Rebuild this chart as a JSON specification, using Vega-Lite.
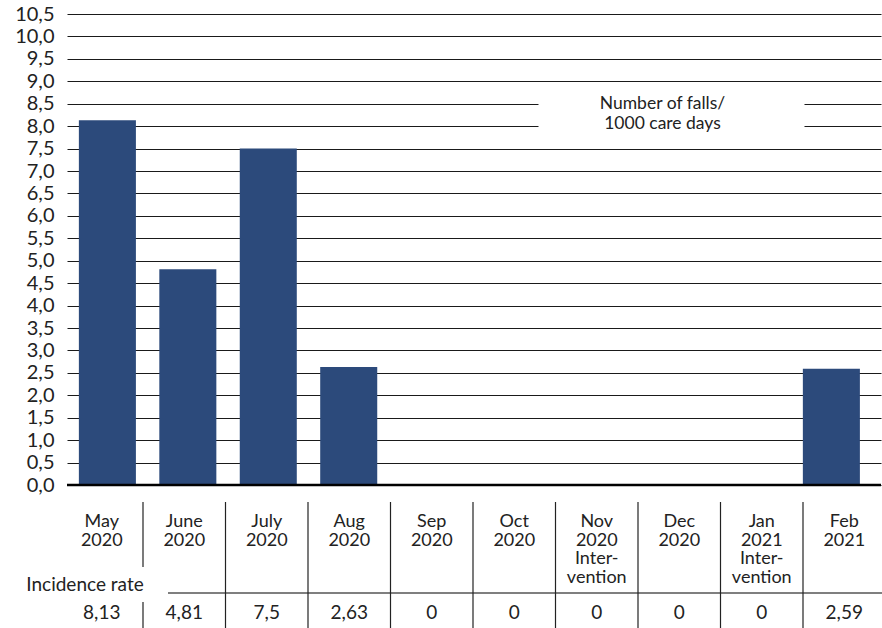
{
  "$schema": "https://vega.github.io/schema/vega-lite/v6.json",
  "background": "white",
  "padding": {"left": 14, "top": 4, "right": 0, "bottom": 0},
  "spacing": 6,
  "data": {"values": [
    {"month": "May 2020", "label": "May\n2020", "rate": 8.13},
    {"month": "June 2020", "label": "June\n2020", "rate": 4.81},
    {"month": "July 2020", "label": "July\n2020", "rate": 7.5},
    {"month": "Aug 2020", "label": "Aug\n2020", "rate": 2.63},
    {"month": "Sep 2020", "label": "Sep\n2020", "rate": 0},
    {"month": "Oct 2020", "label": "Oct\n2020", "rate": 0},
    {"month": "Nov 2020", "label": "Nov\n2020\nInter-\nvention", "rate": 0},
    {"month": "Dec 2020", "label": "Dec\n2020", "rate": 0},
    {"month": "Jan 2021", "label": "Jan\n2021\nInter-\nvention", "rate": 0},
    {"month": "Feb 2021", "label": "Feb\n2021", "rate": 2.59}
  ]},
  "vconcat": [
    {
      "width": 814,
      "height": 471,
      "layer": [
        {
          "mark": {"type": "bar", "color": "#2c4a7b"},
          "encoding": {
            "x": {"field": "month", "type": "nominal", "sort": null,
                  "scale": {"paddingInner": 0.291, "paddingOuter": 0.205, "align": 0.36},
                  "axis": null},
            "y": {"field": "rate", "type": "quantitative",
                  "scale": {"domain": [0, 10.5], "nice": false},
                  "axis": {"values": [0,0.5,1,1.5,2,2.5,3,3.5,4,4.5,5,5.5,6,6.5,7,7.5,8,8.5,9,9.5,10,10.5],
                           "tickCount": 40, "format": ".1f", "title": null}}
          }
        },
        {
          "data": {"values": [{}]},
          "mark": {"type": "rule", "color": "#000", "strokeWidth": 2.5},
          "encoding": {"y": {"datum": 0, "type": "quantitative"}}
        },
        {
          "data": {"values": [{}]},
          "mark": {"type": "bar", "color": "white", "width": 266, "xOffset": 1},
          "encoding": {
            "x": {"datum": "Dec 2020", "type": "nominal"},
            "y": {"datum": 7.76, "type": "quantitative"},
            "y2": {"datum": 8.74}
          }
        },
        {
          "data": {"values": [{}]},
          "mark": {"type": "text", "font": "Lato", "fontSize": 17.5, "color": "#222",
                   "lineBreak": "\n", "lineHeight": 20, "baseline": "middle", "align": "center", "xOffset": -8},
          "encoding": {
            "x": {"datum": "Dec 2020", "type": "nominal"},
            "y": {"datum": 8.5, "type": "quantitative"},
            "text": {"value": "Number of falls/\n1000 care days"}
          }
        }
      ]
    },
    {
      "width": 825,
      "height": 126,
      "layer": [
        {
          "mark": {"type": "text", "font": "Lato", "fontSize": 18, "color": "#222",
                   "lineBreak": "\n", "lineHeight": 18.5, "baseline": "top", "align": "center",
                   "xOffset": -6.5, "dy": -20.5},
          "encoding": {
            "x": {"field": "month", "type": "nominal", "sort": null,
                  "scale": {"paddingInner": 0, "paddingOuter": 0}, "axis": null},
            "y": {"datum": "Month", "type": "nominal",
                  "scale": {"type": "band", "domain": ["Month", "Incidence rate"], "paddingInner": 0, "paddingOuter": 0},
                  "axis": null},
            "text": {"field": "label"}
          }
        },
        {
          "mark": {"type": "text", "font": "Lato", "fontSize": 19, "color": "#222",
                   "baseline": "middle", "align": "center", "xOffset": -6.5, "dy": 16.5},
          "encoding": {
            "x": {"field": "month", "type": "nominal", "sort": null},
            "y": {"datum": "Incidence rate", "type": "nominal"},
            "text": {"field": "rate", "type": "quantitative", "format": ".3~g"}
          }
        },
        {
          "data": {"values": [{}]},
          "mark": {"type": "text", "font": "Lato", "fontSize": 19, "color": "#222",
                   "baseline": "middle", "align": "center", "dx": -23.25, "dy": -11.5},
          "encoding": {
            "x": {"datum": "May 2020", "type": "nominal"},
            "y": {"datum": "Incidence rate", "type": "nominal"},
            "text": {"value": "Incidence rate"}
          }
        },
        {
          "data": {"values": [{}]},
          "mark": {"type": "rule", "color": "#555", "strokeWidth": 1.5,
                   "xOffset": -22.75, "x2Offset": 40, "yOffset": -3.5, "y2Offset": -3.5},
          "encoding": {
            "x": {"datum": "June 2020", "type": "nominal"},
            "x2": {"datum": "Feb 2021"},
            "y": {"datum": "Incidence rate", "type": "nominal"}
          }
        },
        {
          "transform": [{"filter": "datum.month !== 'May 2020' && datum.month !== 'June 2020'"}],
          "mark": {"type": "rule", "color": "#222", "strokeWidth": 1.2, "xOffset": -6.5},
          "encoding": {
            "x": {"field": "month", "type": "nominal", "sort": null, "bandPosition": 0}
          }
        },
        {
          "transform": [{"filter": "datum.month === 'June 2020'"}],
          "mark": {"type": "rule", "color": "#222", "strokeWidth": 1.2, "xOffset": -6.5,
                   "yOffset": -31.5, "y2Offset": 33.5},
          "encoding": {
            "x": {"field": "month", "type": "nominal", "sort": null, "bandPosition": 0},
            "y": {"datum": "Month", "type": "nominal"},
            "y2": {"datum": "Month"}
          }
        },
        {
          "transform": [{"filter": "datum.month === 'June 2020'"}],
          "mark": {"type": "rule", "color": "#222", "strokeWidth": 1.2, "xOffset": -6.5,
                   "yOffset": 5.5, "y2Offset": 31.5},
          "encoding": {
            "x": {"field": "month", "type": "nominal", "sort": null, "bandPosition": 0},
            "y": {"datum": "Incidence rate", "type": "nominal"},
            "y2": {"datum": "Incidence rate"}
          }
        }
      ]
    }
  ],
  "config": {
    "view": {"stroke": null},
    "axisY": {"ticks": false, "domain": false, "labelPadding": 13, "labelFont": "Lato",
              "labelFontSize": 20, "labelColor": "#222", "labelOverlap": false, "labelBound": false,
              "grid": true, "gridColor": "#1a1a1a", "gridWidth": 1},
    "locale": {"number": {"decimal": ",", "thousands": ".", "grouping": [3], "currency": ["", " €"]}}
  }
}
